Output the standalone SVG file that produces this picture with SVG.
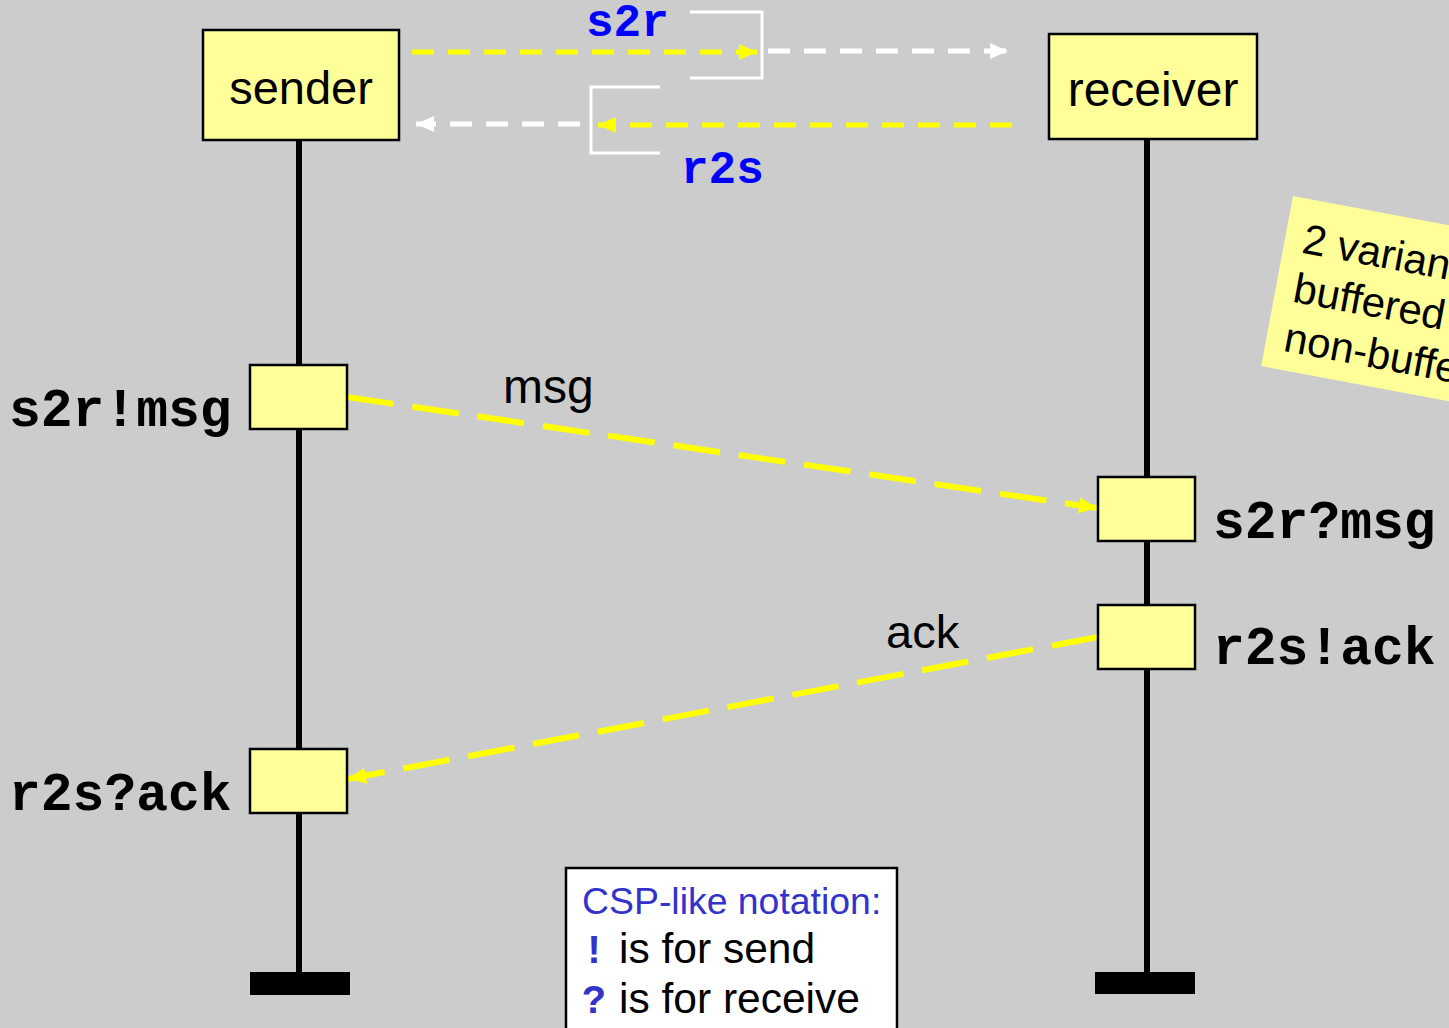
<svg xmlns="http://www.w3.org/2000/svg" width="1449" height="1028" viewBox="0 0 1449 1028">
<style>
.box{fill:#ffff99;stroke:#000;stroke-width:2.5}
.life{stroke:#000;stroke-width:6}
.sans{font-family:"Liberation Sans",Arial,sans-serif}
.mono{font-family:"Liberation Mono","Courier New",monospace;font-weight:bold}
.ydash{stroke:#ffff00;stroke-width:5;fill:none}
.wdash{stroke:#ffffff;stroke-width:5;fill:none}
.bracket{stroke:#ffffff;stroke-width:3;fill:none}
</style>
<defs>
<marker id="ya" markerUnits="userSpaceOnUse" markerWidth="20" markerHeight="18" refX="18" refY="8" orient="auto"><path d="M0,0 L18,8 L0,16 z" fill="#ffff00"/></marker>
<marker id="wa" markerUnits="userSpaceOnUse" markerWidth="20" markerHeight="18" refX="18" refY="8" orient="auto"><path d="M0,0 L18,8 L0,16 z" fill="#ffffff"/></marker>
</defs>
<rect width="1449" height="1028" fill="#cccccc"/>

<g id="note">
<g transform="translate(1293,196) rotate(10.6)">
<rect x="0" y="0" width="360" height="173" fill="#ffff99"/>
<text class="sans" font-size="42" fill="#000"><tspan x="18" y="54">2 variants:</tspan><tspan x="18" y="104">buffered</tspan><tspan x="18" y="154">non-buffered</tspan></text>
</g>
</g>

<g id="lifelines">
<line class="life" x1="299" y1="141" x2="299" y2="975"/>
<line class="life" x1="1147" y1="139" x2="1147" y2="975"/>
<rect x="250" y="972" width="100" height="23" fill="#000"/>
<rect x="1095" y="972" width="100" height="22" fill="#000"/>
</g>

<g id="connectors">
<line class="ydash" x1="412" y1="52" x2="757" y2="52" stroke-dasharray="22 14" marker-end="url(#ya)"/>
<path class="bracket" d="M690,12 H762 V78 H690"/>
<line class="wdash" x1="768" y1="51" x2="1008" y2="51" stroke-dasharray="22 14" marker-end="url(#wa)"/>
<line class="ydash" x1="1012" y1="125" x2="598" y2="125" stroke-dasharray="22 14" marker-end="url(#ya)"/>
<path class="bracket" d="M660,87 H591 V153 H660"/>
<line class="wdash" x1="580" y1="124" x2="416" y2="124" stroke-dasharray="22 14" marker-end="url(#wa)"/>
<line class="ydash" style="stroke-width:6" x1="347" y1="397" x2="1097" y2="508" stroke-dasharray="47 19" marker-end="url(#ya)"/>
<line class="ydash" style="stroke-width:6" x1="1098" y1="637" x2="348" y2="779" stroke-dasharray="47 19" marker-end="url(#ya)"/>
<text class="mono" font-size="46" fill="#0000ff" x="586" y="36">s2r</text>
<text class="mono" font-size="46" fill="#0000ff" x="681" y="183">r2s</text>
<text class="sans" font-size="48" fill="#000" x="503" y="403">msg</text>
<text class="sans" font-size="47" fill="#000" x="886" y="648">ack</text>
</g>

<g id="sender">
<rect class="box" x="203" y="30" width="196" height="110"/>
<text class="sans" font-size="47" x="301" y="104" text-anchor="middle">sender</text>
</g>
<g id="receiver">
<rect class="box" x="1049" y="34" width="208" height="105"/>
<text class="sans" font-size="48" x="1153" y="106" text-anchor="middle">receiver</text>
</g>

<g id="send-msg">
<rect class="box" x="250" y="365" width="97" height="64"/>
<text class="mono" font-size="53" x="9" y="426">s2r!msg</text>
</g>
<g id="recv-ack">
<rect class="box" x="250" y="749" width="97" height="64"/>
<text class="mono" font-size="53" x="9" y="810">r2s?ack</text>
</g>
<g id="recv-msg">
<rect class="box" x="1098" y="477" width="97" height="64"/>
<text class="mono" font-size="53" x="1213" y="538">s2r?msg</text>
</g>
<g id="send-ack">
<rect class="box" x="1098" y="605" width="97" height="64"/>
<text class="mono" font-size="53" x="1213" y="664">r2s!ack</text>
</g>

<g id="legend">
<rect x="566" y="868" width="331" height="180" fill="#ffffff" stroke="#000" stroke-width="2.5"/>
<text class="sans" font-size="37.4" fill="#3333cc" x="582" y="914">CSP-like notation:</text>
<text class="mono" font-size="40" fill="#3333cc" x="582" y="963">!</text>
<text class="sans" font-size="42.5" fill="#000" x="619" y="963">is for send</text>
<text class="mono" font-size="40" fill="#3333cc" x="582" y="1013">?</text>
<text class="sans" font-size="42.5" fill="#000" x="619" y="1013">is for receive</text>
</g>
</svg>
